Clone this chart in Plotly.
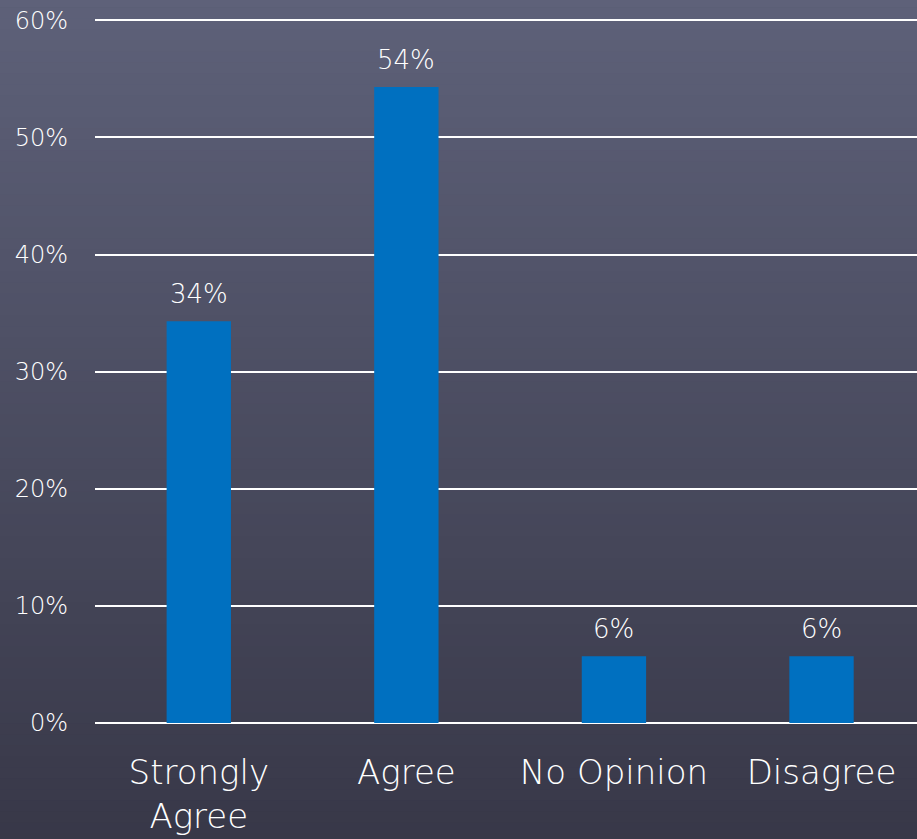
import plotly.graph_objects as go

categories = ["Strongly<br>Agree", "Agree", "No Opinion", "Disagree"]
values = [34.3, 54.3, 5.7, 5.7]
labels = ["34%", "54%", "6%", "6%"]
y_ticks = [0, 10, 20, 30, 40, 50, 60]
y_tick_labels = ["0%", "10%", "20%", "30%", "40%", "50%", "60%"]

FONT = "'DejaVu Sans', sans-serif"

fig = go.Figure()
fig.add_trace(go.Bar(
    x=categories, y=values,
    marker=dict(color="#0070c0", line=dict(width=0)),
    width=0.31,
))
for cat, val, lab in zip(categories, values, labels):
    fig.add_annotation(x=cat, y=val, text=lab, showarrow=False, yanchor="bottom",
                       yshift=10, font=dict(color="white", size=26, family=FONT, weight=200))

# background gradient made of thin horizontal bands
top = (94, 97, 121)
bottom = (54, 54, 70)
n = 80
shapes = []
for i in range(n):
    t = i / (n - 1)
    c = tuple(round(top[k] + (bottom[k] - top[k]) * t) for k in range(3))
    shapes.append(dict(type="rect", xref="paper", yref="paper",
                       x0=-0.2, x1=1.1, y0=1.03 - (i + 1) * 1.25 / n, y1=1.03 - i * 1.25 / n + 0.001,
                       fillcolor="rgb(%d,%d,%d)" % c, line=dict(width=0), layer="below"))

fig.update_layout(
    width=917, height=839,
    margin=dict(l=95, r=0, t=18, b=116, autoexpand=False),
    paper_bgcolor="rgb(74,76,96)", plot_bgcolor="rgba(0,0,0,0)",
    shapes=shapes, showlegend=False,
    font=dict(family=FONT, color="white"),
)
fig.update_xaxes(range=[-0.5, 3.46], showgrid=False, showline=False, zeroline=False, automargin=False,
                 tickfont=dict(size=34, color="white", family=FONT, weight=200), ticks="", ticklabelstandoff=26)
fig.update_yaxes(range=[0, 60.2], tickvals=y_ticks, ticktext=y_tick_labels, automargin=False,
                 showgrid=True, gridcolor="white", gridwidth=2, zeroline=True,
                 zerolinecolor="white", zerolinewidth=2, showline=False,
                 tickfont=dict(size=24, color="white", family=FONT, weight=200), ticks="", ticklabelstandoff=26)

fig.write_html("out.html", config={"displayModeBar": False},
               post_script="document.body.style.margin='0';")
